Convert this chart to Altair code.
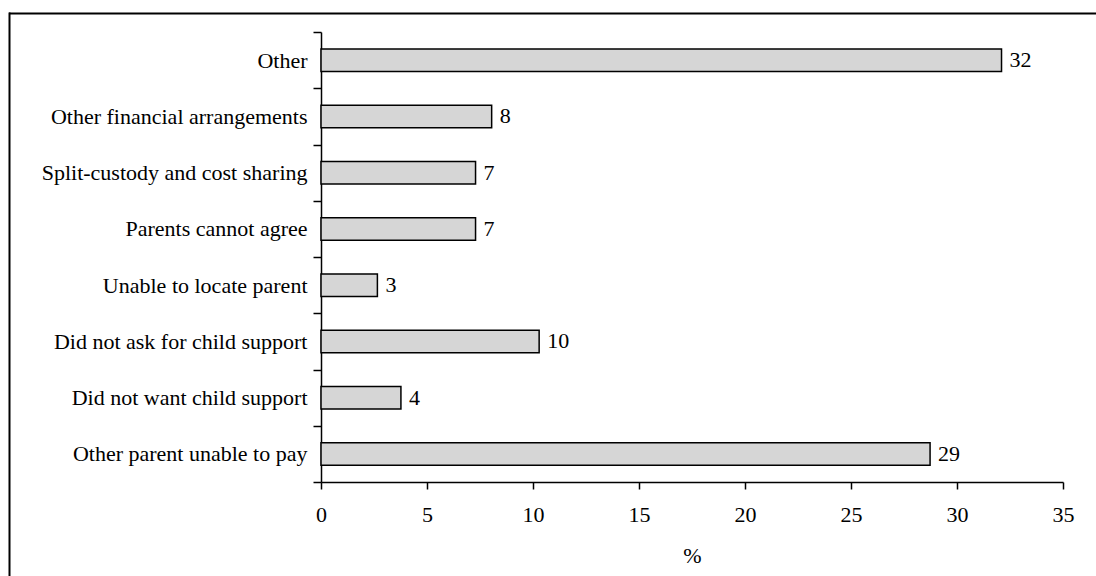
import altair as alt
import pandas as pd

categories = [
    "Other",
    "Other financial arrangements",
    "Split-custody and cost sharing",
    "Parents cannot agree",
    "Unable to locate parent",
    "Did not ask for child support",
    "Did not want child support",
    "Other parent unable to pay",
]
values = [32.1, 8.05, 7.29, 7.29, 2.66, 10.29, 3.77, 28.73]
value_labels = ["32", "8", "7", "7", "3", "10", "4", "29"]
x_ticks = [0, 5, 10, 15, 20, 25, 30, 35]

df = pd.DataFrame({"cat": categories, "val": values, "lab": value_labels})

FONT = "Liberation Serif"
FS = 22

W, H = 742, 450

y_enc = alt.Y(
    "cat:N",
    sort=categories,
    title=None,
    scale=alt.Scale(paddingInner=0, paddingOuter=0),
    axis=alt.Axis(
        tickBand="extent",
        tickSize=8,
        labelPadding=6,
        labelFont=FONT,
        labelFontSize=FS,
        labelColor="black",
        labelLimit=400,
        domainColor="black",
        domainWidth=1.5,
        tickColor="black",
        tickWidth=1.5,
        grid=False,
    ),
)
x_enc = alt.X(
    "val:Q",
    scale=alt.Scale(domain=[0, 35], nice=False),
    axis=alt.Axis(
        values=x_ticks,
        title="%",
        tickSize=7,
        labelPadding=15,
        labelFlush=False,
        labelFont=FONT,
        labelFontSize=FS,
        labelColor="black",
        titleFont=FONT,
        titleFontSize=FS,
        titleFontWeight="normal",
        titleColor="black",
        titlePadding=20,
        domainColor="black",
        domainWidth=1.5,
        tickColor="black",
        tickWidth=1.5,
        grid=False,
    ),
)

bars = alt.Chart(df).mark_bar(
    fill="#d6d6d6", stroke="black", strokeWidth=1.5, height={"band": 0.4}
).encode(y=y_enc, x=x_enc)

texts = alt.Chart(df).mark_text(
    align="left", baseline="middle", dx=8, font=FONT, fontSize=FS, color="black"
).encode(y=alt.Y("cat:N", sort=categories), x=alt.X("val:Q"), text="lab:N")

one = pd.DataFrame({"a": [0]})
top_border = alt.Chart(one).mark_rule(color="black", strokeWidth=2).encode(
    x=alt.value(-312), x2=alt.value(775), y=alt.value(-18.5)
)
left_border = alt.Chart(one).mark_rule(color="black", strokeWidth=2).encode(
    x=alt.value(-311.5), y=alt.value(-19.5), y2=alt.value(544)
)

chart = (
    alt.layer(bars, texts, top_border, left_border)
    .properties(
        width=W,
        height=H,
        padding={"left": 321, "top": 32, "right": 33, "bottom": 94},
        autosize=alt.AutoSizeParams(type="none"),
        background="white",
    )
    .configure_view(stroke=None)
)

chart.save("out.html", embed_options={"renderer": "svg", "actions": False})
